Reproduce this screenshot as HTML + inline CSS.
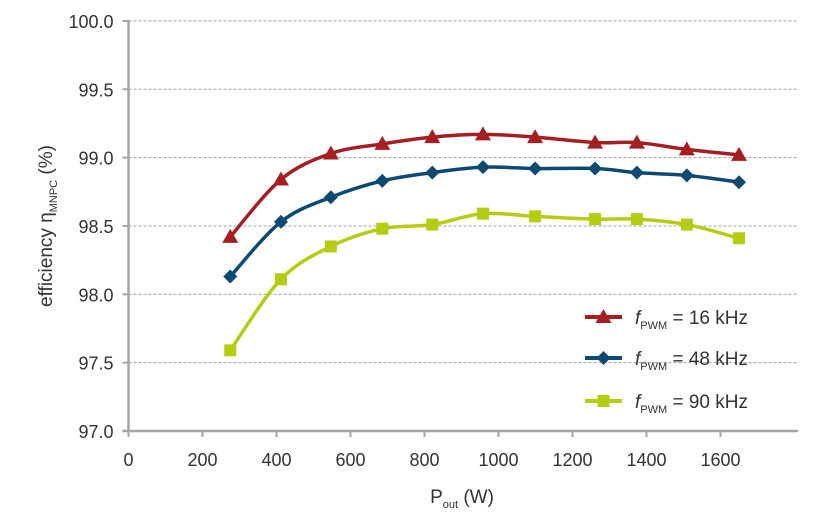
<!DOCTYPE html>
<html><head><meta charset="utf-8"><style>
body{margin:0;background:#fff;}
svg{display:block;font-family:"Liberation Sans",sans-serif;}
</style></head><body>
<svg id="chart" width="837" height="523" viewBox="0 0 837 523" xmlns="http://www.w3.org/2000/svg">
<g id="grid"></g>
<g id="axes"></g>
<g id="series"></g>
<text transform="translate(52,226) rotate(-90)" text-anchor="middle" font-size="19" fill="#333">efficiency η<tspan font-size="11" dy="5">MNPC</tspan><tspan dy="-5"> (%)</tspan></text>
<text x="462" y="503" text-anchor="middle" font-size="19" fill="#333">P<tspan font-size="11" dy="5">out</tspan><tspan dy="-5"> (W)</tspan></text>
<g id="legend"></g>
</svg>
<script>
const xValues = [275, 412, 547, 686, 821, 958, 1099, 1261, 1374, 1509, 1650];
const eff16 = [98.42, 98.84, 99.03, 99.10, 99.15, 99.17, 99.15, 99.11, 99.11, 99.06, 99.02];
const eff48 = [98.13, 98.53, 98.71, 98.83, 98.89, 98.93, 98.92, 98.92, 98.89, 98.87, 98.82];
const eff90 = [97.59, 98.11, 98.35, 98.48, 98.51, 98.59, 98.57, 98.55, 98.55, 98.51, 98.41];
const yTicks = ["97.0","97.5","98.0","98.5","99.0","99.5","100.0"];
const xTicks = ["0","200","400","600","800","1000","1200","1400","1600"];
const seriesLabels = ["16 kHz","48 kHz","90 kHz"];

const NS="http://www.w3.org/2000/svg";
const X0=128.5, XS=74/200, Y0=431, YS=136.7;
const xs=v=>X0+v*XS, ys=v=>Y0-(v-97)*YS;
function mk(tag,attrs,parent){const e=document.createElementNS(NS,tag);for(const k in attrs)e.setAttribute(k,attrs[k]);parent.appendChild(e);return e;}
const grid=document.getElementById('grid'),axes=document.getElementById('axes'),ser=document.getElementById('series'),leg=document.getElementById('legend');

yTicks.forEach(t=>{
  const y=ys(parseFloat(t));
  if(parseFloat(t)>97){const l=mk('line',{x1:X0,x2:797,y1:y,y2:y,stroke:'#a0a0a0','stroke-width':1,'stroke-dasharray':'3,2'},grid);
  
  }
  const tk=mk('line',{x1:X0-6,x2:X0,y1:y,y2:y,stroke:'#a6a6a6','stroke-width':2},axes);
  
  
  const tx=mk('text',{x:X0-15,y:y+7,'text-anchor':'end','font-size':18,fill:'#333'},axes);
  tx.textContent=t;
  
  
});
xTicks.forEach(t=>{
  const x=xs(parseFloat(t));
  const tk=mk('line',{x1:x,x2:x,y1:Y0,y2:Y0+6,stroke:'#a6a6a6','stroke-width':2},axes);
  
  
  const tx=mk('text',{x:x,y:Y0+35,'text-anchor':'middle','font-size':18,fill:'#333'},axes);
  tx.textContent=t;
  
  
});
const ya=mk('line',{x1:X0,x2:X0,y1:20,y2:Y0+1,stroke:'#a6a6a6','stroke-width':2.5},axes);


const xa=mk('line',{x1:X0-6,x2:798,y1:Y0,y2:Y0,stroke:'#a6a6a6','stroke-width':2.5},axes);



function smooth(p){let d=`M${p[0][0]},${p[0][1]}`;for(let i=0;i<p.length-1;i++){const p0=p[i-1]||p[i],p1=p[i],p2=p[i+1],p3=p[i+2]||p2;
 d+=` C${p1[0]+(p2[0]-p0[0])/6},${p1[1]+(p2[1]-p0[1])/6} ${p2[0]-(p3[0]-p1[0])/6},${p2[1]-(p3[1]-p1[1])/6} ${p2[0]},${p2[1]}`;}return d;}
function marker(type,x,y,color,parent){
  if(type==='tri') return mk('polygon',{points:`${x},${y-8} ${x-8},${y+6} ${x+8},${y+6}`,fill:color},parent);
  if(type==='dia') return mk('polygon',{points:`${x},${y-7} ${x+7},${y} ${x},${y+7} ${x-7},${y}`,fill:color},parent);
  return mk('rect',{x:x-6,y:y-6,width:12,height:12,fill:color},parent);
}
const defs=[[eff16,'#a51e22','tri','16khz'],[eff48,'#0d4a72','dia','48khz'],[eff90,'#b5cc12','sq','90khz']];
defs.forEach(([vals,c,m,n])=>{
  const pts=vals.map((v,i)=>[xs(xValues[i]),ys(v)]);
  const p=mk('path',{d:smooth(pts),fill:'none',stroke:c,'stroke-width':3.5},ser);
  
  
  pts.forEach(q=>{const mm=marker(m,q[0],q[1],c,ser);
    
    });
});
const legY=[317,358,401];
defs.forEach(([v,c,m,n],i)=>{
  const y=legY[i];
  const l=mk('line',{x1:585,x2:622,y1:y,y2:y,stroke:c,'stroke-width':4},leg);
  
  
  const mm=marker(m,603.5,y,c,leg);
  
  
  const t=mk('text',{x:635,y:y+7,'font-size':19,fill:'#333'},leg);
  t.innerHTML='<tspan font-style="italic">f</tspan><tspan font-size="11" dy="5">PWM</tspan><tspan dy="-5"> = '+seriesLabels[i]+'</tspan>';
  
  
});
</script>
</body></html>
